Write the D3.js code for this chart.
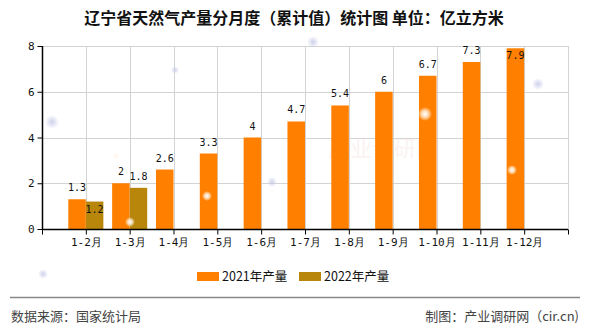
<!DOCTYPE html>
<html>
<head>
<meta charset="utf-8">
<script src="https://cdn.jsdelivr.net/npm/d3@7"></script>
<style>
  html, body { margin: 0; padding: 0; background: #fff; }
  svg { display: block; }
</style>
</head>
<body>
<svg id="chart" width="590" height="330"></svg>
<script>
// Liaoning natural gas output, cumulative by month (100 million m³)
const categories = ["1-2月", "1-3月", "1-4月", "1-5月", "1-6月", "1-7月", "1-8月", "1-9月", "1-10月", "1-11月", "1-12月"];
const output2021 = [1.3, 2, 2.6, 3.3, 4, 4.7, 5.4, 6, 6.7, 7.3, 7.9];
const output2022 = [1.2, 1.8];
const seriesNames = ["2021年产量", "2022年产量"];
const yTicks = [0, 2, 4, 6, 8];

const colors = ["#FF8000", "#B8860B"];
const svg = d3.select("#chart");
const W = 590, H = 330;
const m = { left: 42, right: 568, top: 46, bottom: 229 };

// soft glow spots in the background
const defs = svg.append("defs");
const glowB = defs.append("radialGradient").attr("id", "glowBlue");
glowB.append("stop").attr("offset", "0%").attr("stop-color", "#c8cbe8").attr("stop-opacity", 0.9);
glowB.append("stop").attr("offset", "100%").attr("stop-color", "#c8cbe8").attr("stop-opacity", 0);
const glowW = defs.append("radialGradient").attr("id", "glowWhite");
glowW.append("stop").attr("offset", "0%").attr("stop-color", "#ffffff").attr("stop-opacity", 1);
glowW.append("stop").attr("offset", "45%").attr("stop-color", "#fff4e6").attr("stop-opacity", 0.8);
glowW.append("stop").attr("offset", "100%").attr("stop-color", "#ffffff").attr("stop-opacity", 0);

// title
svg.append("text")
  .attr("x", W / 2 - 1).attr("y", 24)
  .attr("text-anchor", "middle")
  .attr("font-family", "'Noto Sans CJK SC', sans-serif")
  .attr("font-size", 16).attr("font-weight", "bold").attr("fill", "#111")
  .text("辽宁省天然气产量分月度（累计值）统计图 单位：亿立方米");

const x = d3.scalePoint().domain(categories).range([m.left, m.right]).padding(1);
const y = d3.scaleLinear().domain([0, 8]).range([m.bottom, m.top]);
const barW = x.step() * 0.4;

// grid
const grid = svg.append("g").attr("stroke", "#d3d3d3").attr("stroke-width", 1);
yTicks.filter(t => t > 0).forEach(t => {
  grid.append("line").attr("x1", m.left).attr("x2", m.right)
    .attr("y1", Math.round(y(t)) + 0.5).attr("y2", Math.round(y(t)) + 0.5);
});
categories.concat(["__end"]).forEach(c => {
  const xx = c === "__end" ? m.right : x(c);
  grid.append("line").attr("x1", Math.round(xx) + 0.5).attr("x2", Math.round(xx) + 0.5)
    .attr("y1", m.top).attr("y2", m.bottom);
});

// background glows
const blues = [[52, 122, 7], [313, 42, 6], [272, 182, 5], [538, 84, 6], [43, 274, 5], [175, 70, 4]];
blues.forEach(([cx, cy, r]) => svg.append("circle").attr("cx", cx).attr("cy", cy).attr("r", r).attr("fill", "url(#glowBlue)"));

// watermark
svg.append("text").attr("x", 328).attr("y", 156)
  .attr("font-family", "'Noto Sans CJK SC', sans-serif").attr("font-size", 22)
  .attr("fill", "#f4d6d6").attr("opacity", 0.3).text("产业调研网");

// bars
const series = [output2021, output2022];
series.forEach((vals, si) => {
  svg.append("g").selectAll("rect").data(vals).join("rect")
    .attr("x", (d, i) => x(categories[i]) - barW + si * barW)
    .attr("y", d => y(d))
    .attr("width", barW)
    .attr("height", d => y(0) - y(d))
    .attr("fill", colors[si]);
});

// value labels; a few sit inside the bar top where there is no room above
const inside = { "0-10": true, "1-0": true };
series.forEach((vals, si) => {
  svg.append("g").selectAll("text").data(vals).join("text")
    .attr("x", (d, i) => x(categories[i]) - barW / 2 + si * barW)
    .attr("y", (d, i) => inside[si + "-" + i] ? y(d) + 11 : y(d) - 8)
    .attr("text-anchor", "middle")
    .attr("font-family", "'DejaVu Sans Mono', monospace")
    .attr("font-size", 10).attr("fill", "#111")
    .text(d => d);
});

// light spots over bars
const whites = [[130, 222, 5], [207, 196, 5], [425, 114, 7], [512, 170, 5], [116, 156, 4]];
whites.forEach(([cx, cy, r]) => svg.append("circle").attr("cx", cx).attr("cy", cy).attr("r", r).attr("fill", "url(#glowWhite)"));

// axes
const axisFont = "'DejaVu Sans Mono', monospace";
const yAxis = svg.append("g").attr("transform", `translate(${m.left + 0.5},0)`)
  .call(d3.axisLeft(y).tickValues(yTicks).tickSize(5).tickPadding(3).tickFormat(d3.format("d")));
const xAxis = svg.append("g").attr("transform", `translate(0,${m.bottom + 0.5})`)
  .call(d3.axisBottom(x).tickSize(5).tickPadding(4));
// end ticks of the category axis
[m.left, m.right].forEach(xx => xAxis.append("line")
  .attr("x1", xx + 0.5).attr("x2", xx + 0.5).attr("y1", 0).attr("y2", 5).attr("stroke", "#000"));
[yAxis, xAxis].forEach(a => {
  a.select(".domain").attr("stroke", "#000").attr("stroke-width", 1.5);
  a.selectAll(".tick line").attr("stroke", "#000");
  a.selectAll("text").attr("font-family", axisFont).attr("font-size", 11).attr("fill", "#111");
});
yAxis.select(".domain").attr("d", `M0,${m.top}V${m.bottom}`);
xAxis.select(".domain").attr("d", `M${m.left},0H${m.right}`);

// legend
const legend = svg.append("g");
const legX = [197, 299];
seriesNames.forEach((name, i) => {
  legend.append("rect").attr("x", legX[i]).attr("y", 272).attr("width", 22).attr("height", 9).attr("fill", colors[i]);
  legend.append("text").attr("x", legX[i] + 25).attr("y", 281)
    .attr("font-family", "'Noto Sans CJK SC', sans-serif").attr("font-size", 12.5).attr("fill", "#111")
    .text(name);
});

// footer
svg.append("line").attr("x1", 10).attr("x2", 580).attr("y1", 297.5).attr("y2", 297.5)
  .attr("stroke", "#888").attr("stroke-width", 1.5);
svg.append("text").attr("x", 11).attr("y", 321)
  .attr("font-family", "'Noto Sans CJK SC', sans-serif").attr("font-size", 13).attr("fill", "#444")
  .text("数据来源：国家统计局");
svg.append("text").attr("x", 579).attr("y", 321).attr("text-anchor", "end")
  .attr("font-family", "'Noto Sans CJK SC', sans-serif").attr("font-size", 13).attr("fill", "#444")
  .text("制图：产业调研网（cir.cn)");
</script>
</body>
</html>
